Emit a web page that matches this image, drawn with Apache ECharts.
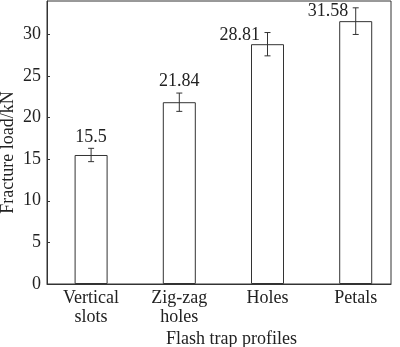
<!DOCTYPE html>
<html>
<head>
<meta charset="utf-8">
<script src="https://cdn.jsdelivr.net/npm/echarts@6/dist/echarts.min.js"></script>
<style>
html,body{margin:0;padding:0;background:#fff;}
#chart{width:400px;height:347px;}
</style>
</head>
<body>
<div id="chart"></div>
<script>
// ---- data ----
const categories = ['Vertical\nslots', 'Zig-zag\nholes', 'Holes', 'Petals'];
const values = [15.5, 21.84, 28.81, 31.58];
const errors = [0.8, 1.1, 1.4, 1.6];
const valueLabels = ['15.5', '21.84', '28.81', '31.58'];
const yTicks = [0, 5, 10, 15, 20, 25, 30];
const positions = [1, 2, 3, 4];

// ---- styles / placement ----
const labelPlacement = ['top', 'top', 'left', 'left'];
const FONT = 'Liberation Serif';
const INK = '#222';
const LINE = '#333';

const barData = positions.map((p, i) => [p, values[i]]);
const errData = positions.map((p, i) => [p, values[i], errors[i]]);

const chart = echarts.init(document.getElementById('chart'), null, {renderer: 'canvas'});
chart.setOption({
  animation: false,
  backgroundColor: '#fff',
  textStyle: {fontFamily: FONT, color: INK},
  grid: {left: 47, right: 9, top: 1, bottom: 63, show: true, borderColor: LINE, borderWidth: 1,
         containLabel: false, outerBoundsMode: 'none'},
  xAxis: {
    type: 'value',
    min: 0.5,
    max: 4.4,
    axisLine: {show: true, lineStyle: {color: LINE, width: 1}},
    axisTick: {show: false},
    splitLine: {show: false},
    axisLabel: {
      customValues: positions,
      formatter: v => categories[Math.round(v) - 1] || '',
      fontFamily: FONT, fontSize: 18, color: INK, lineHeight: 19, margin: 5
    },
    name: 'Flash trap profiles',
    nameLocation: 'middle',
    nameGap: 46,
    nameMoveOverlap: false,
    nameTextStyle: {fontFamily: FONT, fontSize: 18, color: INK, padding: [0, 0, 0, 25]}
  },
  yAxis: {
    type: 'value',
    min: 0,
    max: 34,
    interval: 5,
    axisLine: {show: true, lineStyle: {color: LINE, width: 1}},
    axisTick: {show: true, inside: true, length: 3, lineStyle: {color: LINE}, customValues: yTicks},
    splitLine: {show: false},
    axisLabel: {customValues: yTicks, fontFamily: FONT, fontSize: 18, color: INK, margin: 6},
    name: 'Fracture load/kN',
    nameLocation: 'middle',
    nameGap: 30,
    nameMoveOverlap: false,
    nameTextStyle: {fontFamily: FONT, fontSize: 18, color: INK, padding: [0, 20, 0, 0]}
  },
  series: [
    {
      type: 'bar',
      data: barData,
      barWidth: 33,
      itemStyle: {color: '#fff', borderColor: LINE, borderWidth: 1}
    },
    {
      type: 'custom',
      data: errData,
      z: 5,
      renderItem: function (params, api) {
        const i = params.dataIndex;
        const x = api.value(0), v = api.value(1), e = api.value(2);
        const hi = api.coord([x, v + e]);
        const lo = api.coord([x, v - e]);
        const cap = 3;
        const ls = {stroke: LINE, lineWidth: 1};
        let text;
        if (labelPlacement[i] === 'top') {
          text = {type: 'text', style: {text: valueLabels[i], x: hi[0], y: hi[1] - 2.5, align: 'center', verticalAlign: 'bottom', font: '18px ' + FONT, fill: INK}};
        } else {
          text = {type: 'text', style: {text: valueLabels[i], x: hi[0] - 7.5, y: hi[1] + 3, align: 'right', verticalAlign: 'middle', font: '18px ' + FONT, fill: INK}};
        }
        return {
          type: 'group',
          children: [
            {type: 'line', shape: {x1: hi[0], y1: hi[1], x2: lo[0], y2: lo[1]}, style: ls},
            {type: 'line', shape: {x1: hi[0] - cap, y1: hi[1], x2: hi[0] + cap, y2: hi[1]}, style: ls},
            {type: 'line', shape: {x1: lo[0] - cap, y1: lo[1], x2: lo[0] + cap, y2: lo[1]}, style: ls},
            text
          ]
        };
      }
    }
  ]
});
</script>
</body>
</html>
